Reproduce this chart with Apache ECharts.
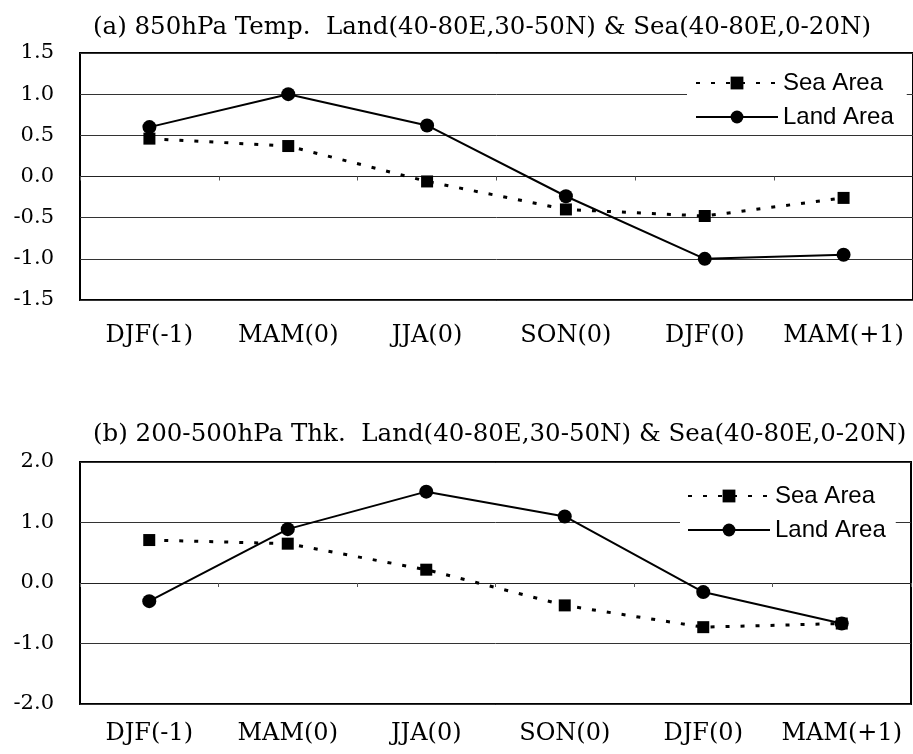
<!DOCTYPE html>
<html>
<head>
<meta charset="utf-8">
<script src="https://cdn.jsdelivr.net/npm/echarts@6/dist/echarts.min.js"></script>
<style>
  html, body { margin: 0; padding: 0; background: #fff; }
  #chart { width: 913px; height: 754px; }
</style>
</head>
<body>
<div id="chart"></div>
<script>
// seasons along the x axis
const seasons = ['DJF(-1)', 'MAM(0)', 'JJA(0)', 'SON(0)', 'DJF(0)', 'MAM(+1)'];

// (a) 850hPa temperature
const landTemp = [0.60, 1.00, 0.62, -0.24, -1.00, -0.95];
const seaTemp = [0.46, 0.37, -0.06, -0.40, -0.48, -0.26];

// (b) 200-500hPa thickness
const landThk = [-0.30, 0.89, 1.51, 1.10, -0.15, -0.67];
const seaThk = [0.71, 0.65, 0.22, -0.37, -0.73, -0.67];

const titleA = '(a) 850hPa Temp.  Land(40-80E,30-50N) & Sea(40-80E,0-20N)';
const titleB = '(b) 200-500hPa Thk.  Land(40-80E,30-50N) & Sea(40-80E,0-20N)';

const serif = 'DejaVu Serif';
const sans = 'Liberation Sans';

const chart = echarts.init(document.getElementById('chart'));

// 底部标签轴
function labelAxis(gridIndex, margin) {
  return {
    type: 'category', gridIndex: gridIndex, data: seasons, position: 'bottom',
    axisLine: { show: false }, axisTick: { show: false }, splitLine: { show: false },
    axisLabel: { interval: 0, margin: margin, color: '#000', fontFamily: serif, fontSize: 24 }
  };
}
// 零线上的刻度轴
function zeroAxis(gridIndex, yIndex) {
  return {
    type: 'category', gridIndex: gridIndex, data: seasons,
    axisLine: { show: true, onZero: true, onZeroAxisIndex: yIndex, lineStyle: { color: '#222', width: 1 } },
    axisTick: { show: true, inside: true, length: 4, lineStyle: { color: '#555' } },
    axisLabel: { show: false }, splitLine: { show: false }
  };
}
function valueAxis(gridIndex, min, max, interval) {
  return {
    type: 'value', gridIndex: gridIndex, min: min, max: max, interval: interval,
    axisLine: { show: false }, axisTick: { show: false },
    splitLine: { lineStyle: { color: '#333', width: 1 } },
    axisLabel: { margin: 26, color: '#000', fontFamily: serif, fontSize: 21, formatter: v => v.toFixed(1) }
  };
}
function seaSeries(x, y, data) {
  return {
    name: 'Sea Area', type: 'line', xAxisIndex: x, yAxisIndex: y, data: data,
    symbol: 'rect', symbolSize: 12, showAllSymbol: true, animation: false,
    itemStyle: { color: '#000' },
    lineStyle: { color: '#000', width: 3, type: [4, 11] }
  };
}
function landSeries(x, y, data) {
  return {
    name: 'Land Area', type: 'line', xAxisIndex: x, yAxisIndex: y, data: data,
    symbol: 'circle', symbolSize: 14, showAllSymbol: true, animation: false,
    itemStyle: { color: '#000' },
    lineStyle: { color: '#000', width: 2 }
  };
}
function legendAt(left, top, padding) {
  return {
    orient: 'vertical', left: left, top: top, padding: padding,
    backgroundColor: '#fff', itemWidth: 82, itemHeight: 16, itemGap: 10,
    data: ['Sea Area', 'Land Area'],
    textStyle: { fontFamily: sans, fontSize: 24, color: '#000' }
  };
}

chart.setOption({
  backgroundColor: '#fff',
  animation: false,
  title: [
    { text: titleA, left: 88, top: 10, textStyle: { fontFamily: serif, fontSize: 24.5, fontWeight: 'normal', color: '#000' } },
    { text: titleB, left: 88, top: 417, textStyle: { fontFamily: serif, fontSize: 24.5, fontWeight: 'normal', color: '#000' } }
  ],
  grid: [
    { left: 80, top: 53, width: 838, height: 247, show: true, borderColor: '#000', borderWidth: 2 },
    { left: 80, top: 462, width: 831, height: 242, show: true, borderColor: '#000', borderWidth: 2 }
  ],
  legend: [
    legendAt(687, 65, [6, 13, 6, 8]),
    legendAt(680, 478, [6, 10, 6, 7])
  ],
  xAxis: [labelAxis(0, 24), zeroAxis(0, 0), labelAxis(1, 18), zeroAxis(1, 1)],
  yAxis: [valueAxis(0, -1.5, 1.5, 0.5), valueAxis(1, -2, 2, 1)],
  series: [
    seaSeries(0, 0, seaTemp),
    landSeries(0, 0, landTemp),
    seaSeries(2, 1, seaThk),
    landSeries(2, 1, landThk)
  ]
});
</script>
</body>
</html>
